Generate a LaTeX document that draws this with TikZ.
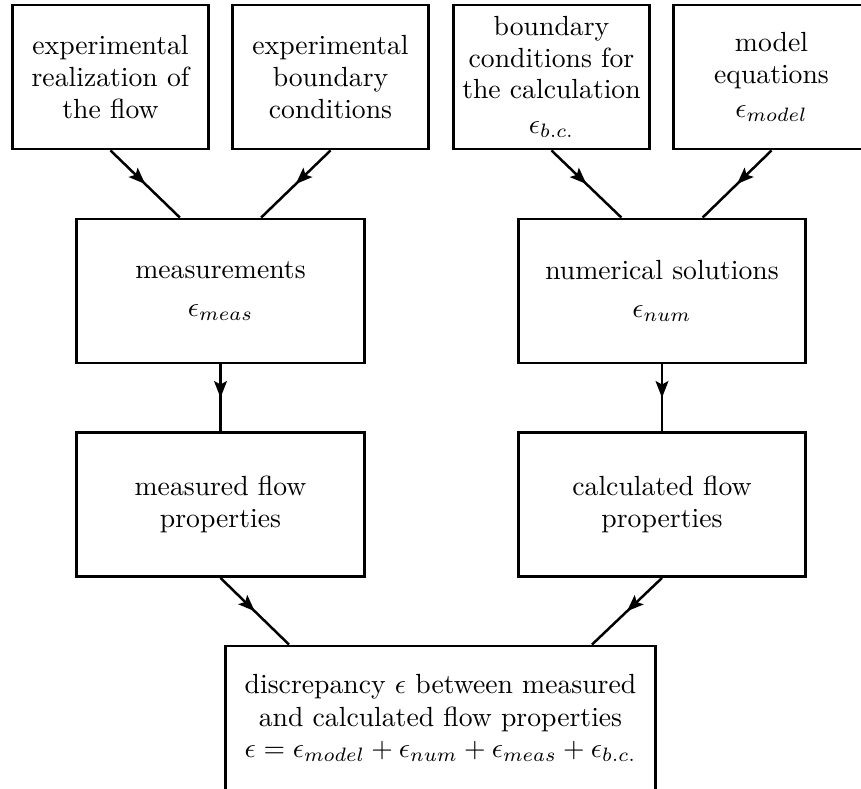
\documentclass[tikz,border=0pt]{standalone}
\usetikzlibrary{arrows.meta,decorations.markings,calc}
\begin{document}
\begin{tikzpicture}[x=0.0127cm,y=-0.0127cm,
    font=\fontsize{10}{11.4}\selectfont,
    smallbox/.style={draw,line width=1pt,minimum width=2.48cm,minimum height=1.83cm,inner sep=0pt,align=center},
    midbox/.style={smallbox,minimum width=3.65cm},
    widebox/.style={smallbox,minimum width=5.46cm},
    flow/.style={line width=0.9pt,postaction={decorate},
      decoration={markings,mark=at position 0.5 with {\arrow{Stealth[length=6pt,width=4.6pt,inset=1.2pt]}}}}]
    \useasboundingbox (0,0) rectangle (861,789);
    \clip (0,0) rectangle (861,789);

    % top row: sources of the two chains
    \node[smallbox] (realize) at (110.5,77) {experimental\\ realization of\\ the flow};
    \node[smallbox] (expbc) at (330.5,77) {experimental\\ boundary\\ conditions};
    \node[smallbox] (calcbc) at (551.5,77) {boundary\\ conditions for\\ the calculation\\[1pt] $\epsilon_{b.c.}$};
    \node[smallbox] (model) at (771.5,77) {model\\ equations\\[1pt] $\epsilon_{model}$};

    % middle rows
    \node[midbox] (meas) at (220.5,291) {measurements\\[2.5pt] $\epsilon_{meas}$};
    \node[midbox] (numsol) at (662,291) {numerical solutions\\[2.5pt] $\epsilon_{num}$};
    \node[midbox] (measflow) at (220.5,504.5) {measured flow\\ properties};
    \node[midbox] (calcflow) at (662,504.5) {calculated flow\\ properties};

    % comparison at the bottom
    \node[widebox] (discrep) at (440.5,718) {discrepancy $\epsilon$ between measured\\[0.5pt] and calculated flow properties\\
      $\epsilon=\epsilon_{model}+\epsilon_{num}+\epsilon_{meas}+\epsilon_{b.c.}$};

    % connectors
    \draw[flow] (realize.south) -- ($(meas.north west)!0.36!(meas.north east)$);
    \draw[flow] (expbc.south) -- ($(meas.north west)!0.64!(meas.north east)$);
    \draw[flow] (calcbc.south) -- ($(numsol.north west)!0.36!(numsol.north east)$);
    \draw[flow] (model.south) -- ($(numsol.north west)!0.64!(numsol.north east)$);
    \draw[flow] (meas.south) -- (measflow.north);
    \draw[flow] (numsol.south) -- (calcflow.north);
    \draw[flow] (measflow.south) -- ($(discrep.north west)!0.15!(discrep.north east)$);
    \draw[flow] (calcflow.south) -- ($(discrep.north west)!0.85!(discrep.north east)$);
\end{tikzpicture}
\end{document}
